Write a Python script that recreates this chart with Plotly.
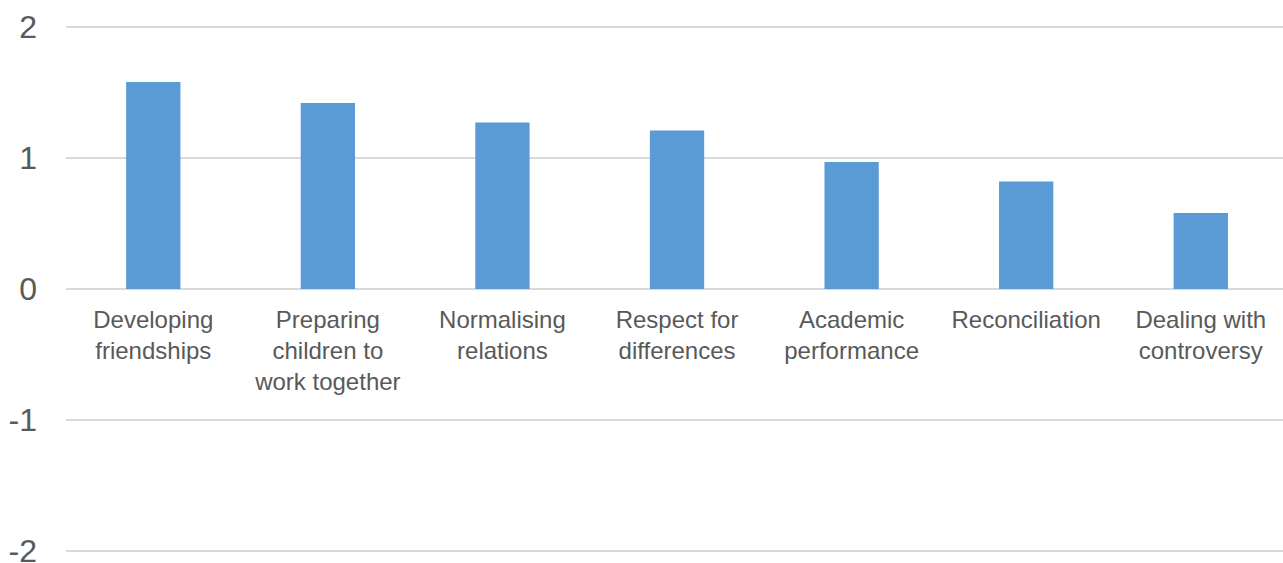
import plotly.graph_objects as go

categories = [
    "Developing<br>friendships",
    "Preparing<br>children to<br>work together",
    "Normalising<br>relations",
    "Respect for<br>differences",
    "Academic<br>performance",
    "Reconciliation",
    "Dealing with<br>controversy",
]
values = [1.58, 1.42, 1.27, 1.21, 0.97, 0.82, 0.58]
y_ticks = [-2, -1, 0, 1, 2]

text_color = "#595959"
grid_color = "#D9D9D9"
bar_color = "#5B9BD5"
font_family = "Arial, 'Liberation Sans', sans-serif"

fig = go.Figure(
    go.Bar(
        x=categories,
        y=values,
        marker=dict(color=bar_color, line=dict(width=0)),
        width=0.311,
    )
)

# value axis padded slightly so the end gridlines at -2 and 2 are kept
fig.update_layout(
    width=1283,
    height=563,
    margin=dict(l=66, r=0, t=23, b=8),
    paper_bgcolor="white",
    plot_bgcolor="white",
    showlegend=False,
    font=dict(family=font_family, color=text_color),
)

fig.update_xaxes(
    type="category",
    range=[-0.5, 6.471],
    anchor="free",
    position=0.5,
    automargin=False,
    showgrid=False,
    showline=False,
    ticks="",
    tickfont=dict(size=24, color=text_color, family=font_family),
    ticklabelstandoff=14,
    tickangle=0,
)

fig.update_yaxes(
    range=[-2.03, 2.03],
    tickvals=y_ticks,
    ticktext=[str(v) for v in y_ticks],
    automargin=False,
    showgrid=True,
    gridcolor=grid_color,
    gridwidth=2,
    zeroline=True,
    zerolinecolor=grid_color,
    zerolinewidth=2,
    showline=False,
    ticks="",
    ticklabeloverflow="allow",
    tickfont=dict(size=32, color=text_color, family=font_family),
    ticklabelstandoff=28,
)

fig.write_html("out.html")
